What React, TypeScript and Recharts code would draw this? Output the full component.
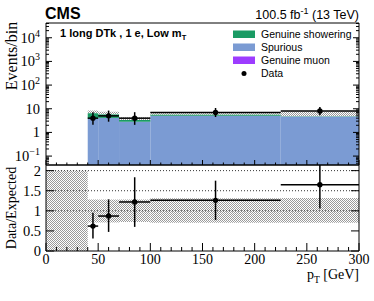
import React from 'react';
import { ComposedChart, XAxis, YAxis, ReferenceArea, ReferenceLine, Scatter, ErrorBar } from 'recharts';

// ---------- data ----------
const binLow = [40, 50, 70, 100, 225];
const binHigh = [50, 70, 100, 225, 300];
const spurious = [3.9, 4.1, 2.8, 5.0, 4.75];
const showering = [2.55, 1.65, 0.55, 0.6, 0.1];
const genuineMuon = [0, 0, 0, 0, 0];
const upperBandUp = [1.3, 1.3, 1.3, 1.3, 1.6];
const dataCounts = [4, 5, 4, 7, 8];
const dataErrDown = [1.91, 2.16, 1.91, 2.52, 2.68];
const dataErrUp = [3.16, 3.38, 3.16, 3.77, 3.97];
const ratioValues = [0.62, 0.87, 1.22, 1.26, 1.65];
const ratioErrDown = [0.31, 0.395, 0.62, 0.49, 0.59];
const ratioErrUp = [0.33, 0.415, 0.615, 0.49, 0.49];
const bandLowEdge = [0, 40, 50, 70, 100, 225];
const bandHighEdge = [40, 50, 70, 100, 225, 300];
const bandDown = [0, 0.71, 0.71, 0.72, 0.7, 0.7];
const bandUp = [2, 1.28, 1.28, 1.28, 1.31, 1.32];

const xMajorTicks = [0, 50, 100, 150, 200, 250, 300];
const logMajorTicks = [0.1, 1, 10, 100, 1000, 10000];
const ratioMajorTicks = [0, 0.5, 1, 1.5, 2];
const ratioGridLines = [1, 1.5, 2];
const legendLabels = ['Genuine showering', 'Spurious', 'Genuine muon', 'Data'];

// ---------- style ----------
const GREEN = '#1a9b64';
const BLUE = '#7b9bd3';
const PURPLE = '#9d3cff';
const SERIF = '"Liberation Serif", "Times New Roman", serif';
const SANS = '"Liberation Sans", Arial, sans-serif';
const W = 374;
const H = 301;
const LOG_DOMAIN: [number, number] = [0.042, 42000];
const RATIO_DOMAIN: [number, number] = [0, 2.14];

const xAllTicks: number[] = [];
for (let v = 0; v <= 300; v += 10) xAllTicks.push(v);
const logAllTicks: number[] = [...logMajorTicks];
for (let e = -2; e <= 4; e++) {
  for (let k = 2; k <= 9; k++) {
    const v = k * Math.pow(10, e);
    if (v >= LOG_DOMAIN[0] && v <= LOG_DOMAIN[1]) logAllTicks.push(v);
  }
}
logAllTicks.sort((a, b) => a - b);

type Side = 'bottom' | 'top' | 'left' | 'right';
const makeTick =
  (side: Side, majors: number[], majorLen: number, minorLen: number, label?: (v: number, x: number, y: number) => React.ReactNode) =>
  (props: any) => {
    const { x, y, payload } = props;
    const v = payload.value as number;
    const major = majors.some((m) => Math.abs(m - v) <= 1e-9 * Math.max(1, Math.abs(m)));
    const len = major ? majorLen : minorLen;
    let line: React.ReactNode = null;
    if (side === 'bottom') line = <line x1={x} x2={x} y1={y} y2={y - len} stroke="#000" strokeWidth={1} />;
    if (side === 'top') line = <line x1={x} x2={x} y1={y} y2={y + len} stroke="#000" strokeWidth={1} />;
    if (side === 'left') line = <line x1={x} x2={x + len} y1={y} y2={y} stroke="#000" strokeWidth={1} />;
    if (side === 'right') line = <line x1={x} x2={x - len} y1={y} y2={y} stroke="#000" strokeWidth={1} />;
    return (
      <g>
        {line}
        {major && label ? label(v, x, y) : null}
      </g>
    );
  };

const logLabel = (v: number, x: number, y: number) => {
  const e = Math.round(Math.log10(v));
  return (
    <text x={x - 6} y={y + 5} textAnchor="end" fontFamily={SERIF} fontSize={14.5} fill="#000">
      {e === 0 ? '1' : e === 1 ? '10' : (
        <>
          10<tspan dy={-6} fontSize={10}>{e < 0 ? '\u2212' + -e : String(e)}</tspan>
        </>
      )}
    </text>
  );
};
const ratioLabel = (v: number, x: number, y: number) => (
  <text x={x - 5} y={y + 5} textAnchor="end" fontFamily={SERIF} fontSize={14.5} fill="#000">
    {String(v)}
  </text>
);
const xLabel = (v: number, x: number, y: number) => (
  <text x={x} y={y + 12.5} textAnchor="middle" fontFamily={SERIF} fontSize={14} fill="#000">
    {String(v)}
  </text>
);

const upperPoints = dataCounts.map((d, i) => ({
  x: (binLow[i] + binHigh[i]) / 2,
  y: d,
  ex: (binHigh[i] - binLow[i]) / 2,
  ey: [dataErrDown[i], dataErrUp[i]],
}));
const ratioPoints = ratioValues.map((r, i) => ({
  x: (binLow[i] + binHigh[i]) / 2,
  y: r,
  ex: (binHigh[i] - binLow[i]) / 2,
  ey: [ratioErrDown[i], ratioErrUp[i]],
}));

const dot = (p: any) => <circle cx={p.cx} cy={p.cy} r={2.7} fill="#000" />;
const axisLine = { stroke: '#000', strokeWidth: 1 };

// axes have a 1px thickness; margins compensate so the plot frames sit at
// upper: x 46..359, y 23..165 ; lower: x 46..359, y 165..251
function UpperPanel() {
  return (
    <ComposedChart width={W} height={H} margin={{ top: 22, right: 14, bottom: 135, left: 45 }}>
      <XAxis xAxisId={0} dataKey="x" type="number" domain={[0, 300]} allowDataOverflow ticks={xAllTicks} interval={0}
        height={1} tickSize={0} tickMargin={0} tickLine={false} axisLine={axisLine} tick={makeTick('bottom', xMajorTicks, 5, 2.5)} />
      <XAxis xAxisId="top" orientation="top" type="number" domain={[0, 300]} allowDataOverflow ticks={xAllTicks} interval={0}
        height={1} tickSize={0} tickMargin={0} tickLine={false} axisLine={axisLine} tick={makeTick('top', xMajorTicks, 5, 2.5)} />
      <YAxis yAxisId={0} dataKey="y" type="number" scale="log" domain={LOG_DOMAIN} allowDataOverflow ticks={logAllTicks} interval={0}
        width={1} tickSize={0} tickMargin={0} tickLine={false} axisLine={axisLine} tick={makeTick('left', logMajorTicks, 6, 3, logLabel)} />
      <YAxis yAxisId="right" orientation="right" type="number" scale="log" domain={LOG_DOMAIN} allowDataOverflow ticks={logAllTicks} interval={0}
        width={1} tickSize={0} tickMargin={0} tickLine={false} axisLine={axisLine} tick={makeTick('right', logMajorTicks, 6, 3)} />
      {binLow.map((lo, i) => {
        const tot = spurious[i] + showering[i] + genuineMuon[i];
        return (
          <ReferenceArea key={'h' + i} x1={lo} x2={binHigh[i]} y1={tot} y2={tot * upperBandUp[i]}
            fill="url(#hatch)" fillOpacity={1} stroke="none" ifOverflow="hidden" />
        );
      })}
      {binLow.map((lo, i) => (
        <ReferenceArea key={'s' + i} x1={lo} x2={binHigh[i]} y1={LOG_DOMAIN[0]} y2={spurious[i]}
          fill={BLUE} fillOpacity={1} stroke="none" ifOverflow="hidden" />
      ))}
      {binLow.map((lo, i) => (
        <ReferenceArea key={'g' + i} x1={lo} x2={binHigh[i]} y1={spurious[i]} y2={spurious[i] + showering[i]}
          fill={GREEN} fillOpacity={1} stroke="none" ifOverflow="hidden" />
      ))}
      {binLow.map((lo, i) =>
        genuineMuon[i] > 0 ? (
          <ReferenceArea key={'m' + i} x1={lo} x2={binHigh[i]} y1={spurious[i] + showering[i]}
            y2={spurious[i] + showering[i] + genuineMuon[i]} fill={PURPLE} fillOpacity={1} stroke="none" ifOverflow="hidden" />
        ) : null
      )}
      <Scatter data={upperPoints} dataKey="y" isAnimationActive={false} shape={dot}>
        <ErrorBar dataKey="ex" direction="x" width={0} stroke="#000" strokeWidth={1.5} />
        <ErrorBar dataKey="ey" direction="y" width={0} stroke="#000" strokeWidth={1.5} />
      </Scatter>
    </ComposedChart>
  );
}

function LowerPanel() {
  return (
    <ComposedChart width={W} height={H} margin={{ top: 164, right: 14, bottom: 49, left: 45 }}>
      <XAxis xAxisId={0} dataKey="x" type="number" domain={[0, 300]} allowDataOverflow ticks={xAllTicks} interval={0}
        height={1} tickSize={0} tickMargin={0} tickLine={false} axisLine={axisLine} tick={makeTick('bottom', xMajorTicks, 8, 4, xLabel)} />
      <XAxis xAxisId="top" orientation="top" type="number" domain={[0, 300]} allowDataOverflow ticks={xAllTicks} interval={0}
        height={1} tickSize={0} tickMargin={0} tickLine={false} axisLine={axisLine} tick={makeTick('top', xMajorTicks, 5, 2.5)} />
      <YAxis yAxisId={0} dataKey="y" type="number" domain={RATIO_DOMAIN} allowDataOverflow ticks={ratioMajorTicks} interval={0}
        width={1} tickSize={0} tickMargin={0} tickLine={false} axisLine={axisLine} tick={makeTick('left', ratioMajorTicks, 8, 4, ratioLabel)} />
      <YAxis yAxisId="right" orientation="right" type="number" domain={RATIO_DOMAIN} allowDataOverflow ticks={ratioMajorTicks} interval={0}
        width={1} tickSize={0} tickMargin={0} tickLine={false} axisLine={axisLine} tick={makeTick('right', ratioMajorTicks, 8, 4)} />
      {bandLowEdge.map((lo, i) => (
        <ReferenceArea key={'b' + i} x1={lo} x2={bandHighEdge[i]} y1={bandDown[i]} y2={bandUp[i]}
          fill="url(#hatch)" fillOpacity={1} stroke="none" ifOverflow="hidden" />
      ))}
      {ratioGridLines.map((v) => (
        <ReferenceLine key={'l' + v} y={v} stroke="#333" strokeWidth={1} strokeDasharray="1 2" />
      ))}
      <Scatter data={ratioPoints} dataKey="y" isAnimationActive={false} shape={dot}>
        <ErrorBar dataKey="ex" direction="x" width={0} stroke="#000" strokeWidth={1.5} />
        <ErrorBar dataKey="ey" direction="y" width={0} stroke="#000" strokeWidth={1.5} />
      </Scatter>
    </ComposedChart>
  );
}

const legendColors = [GREEN, BLUE, PURPLE];
const legendBaselines = [37.5, 50.5, 63.5, 76.5];

export default function App() {
  return (
    <div style={{ position: 'absolute', left: 0, top: 0, width: W, height: H, background: '#fff' }}>
      <div style={{ position: 'absolute', left: 0, top: 0 }}>
        <UpperPanel />
      </div>
      <div style={{ position: 'absolute', left: 0, top: 0 }}>
        <LowerPanel />
      </div>
      <svg width={W} height={H} style={{ position: 'absolute', left: 0, top: 0, pointerEvents: 'none' }}>
        <defs>
          <pattern id="hatch" width="2" height="2" patternUnits="userSpaceOnUse">
            <rect x="0" y="0" width="1" height="1" fill="#9a9a9a" />
            <rect x="1" y="1" width="1" height="1" fill="#9a9a9a" />
          </pattern>
        </defs>
        <text x={45} y={19} fontFamily={SANS} fontWeight="bold" fontSize={16} fill="#000">CMS</text>
        <text x={359} y={19} textAnchor="end" fontFamily={SANS} fontSize={12.5} fill="#000">
          100.5 fb<tspan dy={-5} fontSize={9}>-1</tspan><tspan dy={5}> (13 TeV)</tspan>
        </text>
        <text x={60} y={37} fontFamily={SANS} fontWeight="bold" fontSize={11} fill="#000">
          1 long DTk , 1 e, Low m<tspan dy={3} fontSize={7.5}>T</tspan>
        </text>
        {legendLabels.map((lab, i) => (
          <g key={lab}>
            {i < 3 ? (
              <rect x={233} y={legendBaselines[i] - 7} width={22} height={7.5} fill={legendColors[i]} />
            ) : (
              <circle cx={244} cy={legendBaselines[i] - 3} r={2.5} fill="#000" />
            )}
            <text x={261} y={legendBaselines[i]} fontFamily={SANS} fontSize={10.5} fill="#000">{lab}</text>
          </g>
        ))}
        <text x={17} y={56} transform="rotate(-90 17 56)" textAnchor="middle" fontFamily={SERIF} fontSize={16} fill="#000">
          Events/bin
        </text>
        <text x={15.5} y={208} transform="rotate(-90 15.5 208)" textAnchor="middle" fontFamily={SERIF} fontSize={14} fill="#000">
          Data/Expected
        </text>
        <text x={359} y={279} textAnchor="end" fontFamily={SERIF} fontSize={14} fill="#000">
          p<tspan dy={4} fontSize={9.5}>T</tspan><tspan dy={-4}> [GeV]</tspan>
        </text>
      </svg>
    </div>
  );
}
